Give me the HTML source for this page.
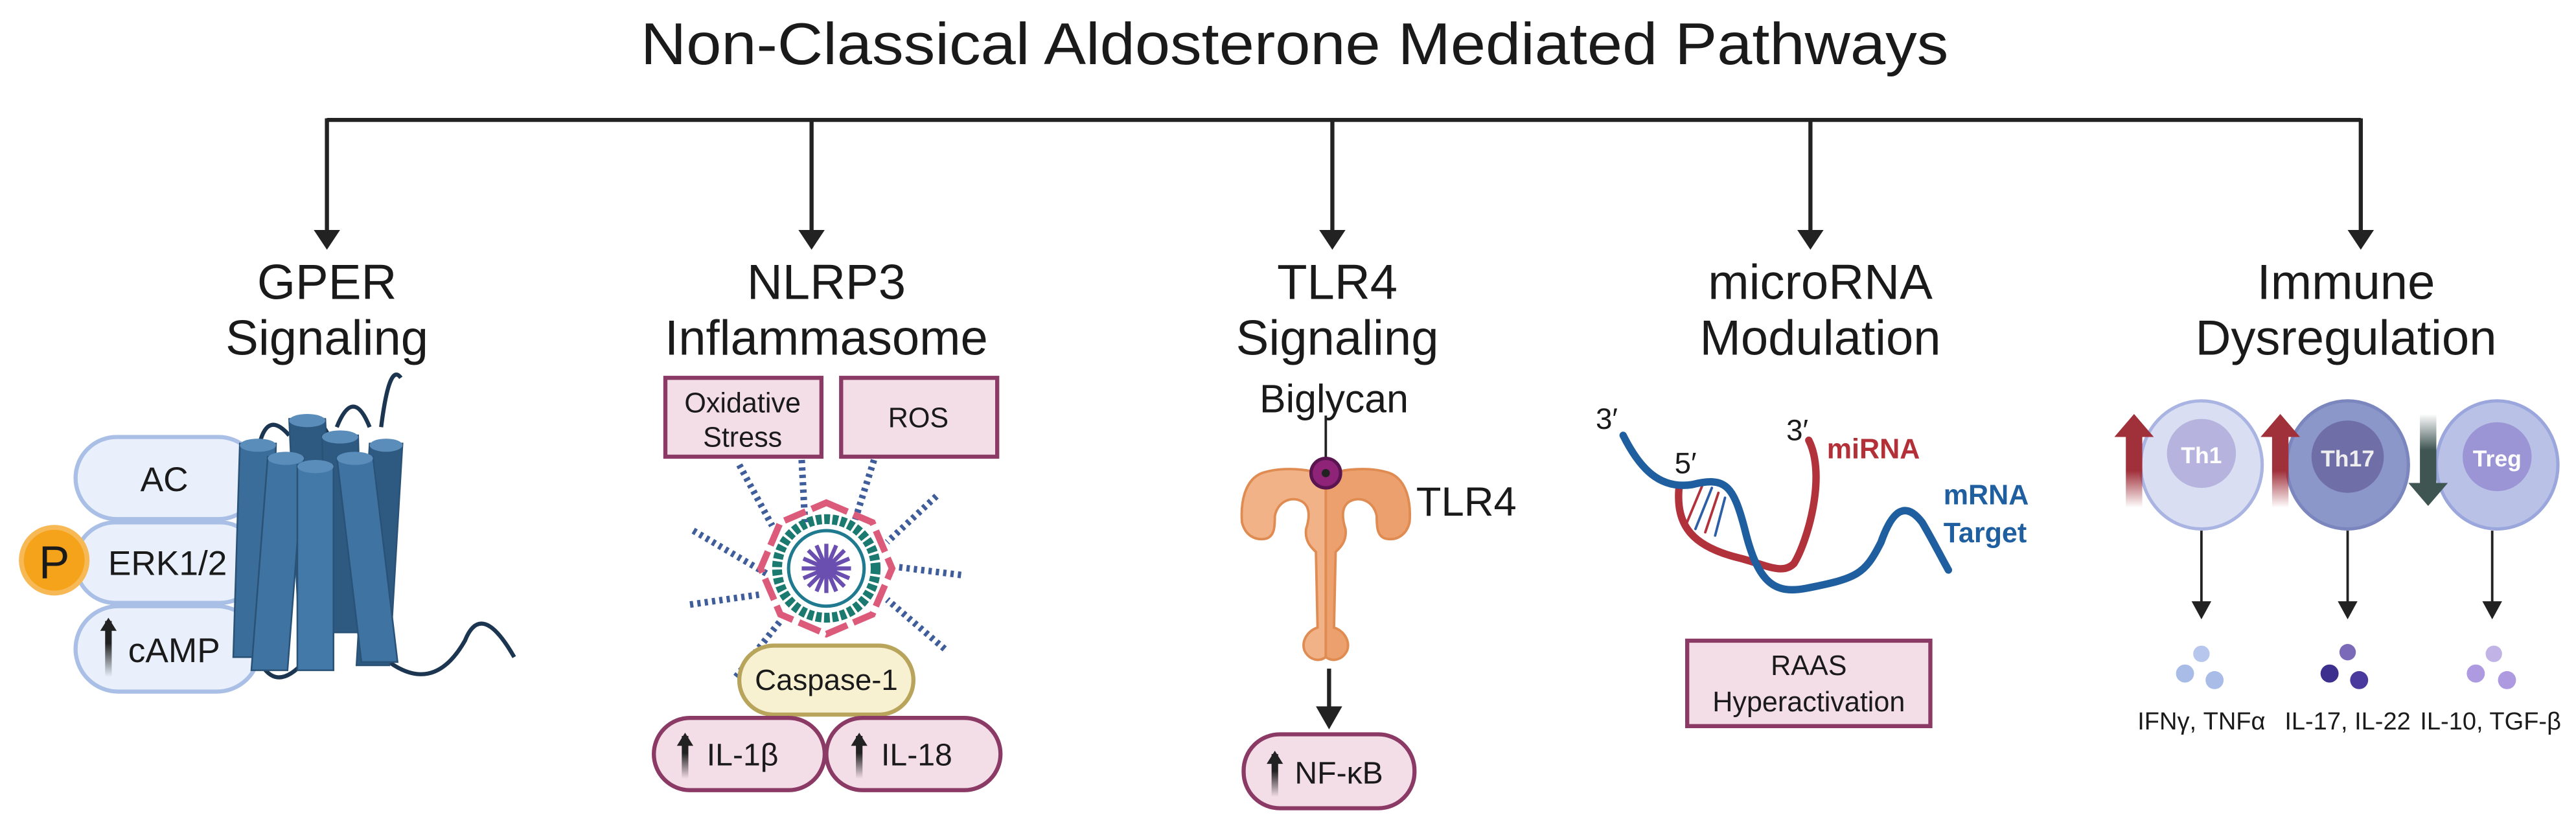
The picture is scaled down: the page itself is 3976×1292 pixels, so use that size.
<!DOCTYPE html>
<html><head><meta charset="utf-8"><style>
html,body{margin:0;padding:0;background:#fff;}
svg{display:block;}
text{font-family:"Liberation Sans",sans-serif;fill:#1a1a1a;}
</style></head><body>
<svg width="3976" height="1292" viewBox="0 0 1568 509.5" preserveAspectRatio="none" xmlns="http://www.w3.org/2000/svg">
<defs>
<linearGradient id="upr" x1="0" y1="1" x2="0" y2="0"><stop offset="0" stop-color="#a0303a" stop-opacity="0"/><stop offset="0.5" stop-color="#a0303a"/><stop offset="1" stop-color="#a0303a"/></linearGradient>
<linearGradient id="dng" x1="0" y1="0" x2="0" y2="1"><stop offset="0" stop-color="#3e5552" stop-opacity="0"/><stop offset="0.5" stop-color="#3e5552"/><stop offset="1" stop-color="#3e5552"/></linearGradient>
<linearGradient id="blk" x1="0" y1="1" x2="0" y2="0"><stop offset="0" stop-color="#222" stop-opacity="0"/><stop offset="0.6" stop-color="#222"/></linearGradient>
</defs>

<text x="788" y="39" font-size="36" text-anchor="middle" textLength="796" lengthAdjust="spacingAndGlyphs">Non-Classical Aldosterone Mediated Pathways</text>

<path d="M199,73 H1437" stroke="#222" stroke-width="2.5" fill="none"/>
<g stroke="#222" stroke-width="2.5" fill="none">
<path d="M199,72 V142"/><path d="M494,72 V142"/><path d="M811,72 V142"/><path d="M1102,72 V142"/><path d="M1437,72 V142"/>
</g>
<g fill="#222">
<path d="M191,140 h16 l-8,12z"/><path d="M486,140 h16 l-8,12z"/><path d="M803,140 h16 l-8,12z"/><path d="M1094,140 h16 l-8,12z"/><path d="M1429,140 h16 l-8,12z"/>
</g>

<g font-size="30" text-anchor="middle">
<text x="199" y="182">GPER</text><text x="199" y="216">Signaling</text>
<text x="503" y="182">NLRP3</text><text x="503" y="216">Inflammasome</text>
<text x="814" y="182">TLR4</text><text x="814" y="216">Signaling</text>
<text x="812" y="251" font-size="24">Biglycan</text>
<text x="1108" y="182">microRNA</text><text x="1108" y="216">Modulation</text>
<text x="1428" y="182">Immune</text><text x="1428" y="216">Dysregulation</text>
</g>

<!-- GPER -->
<g stroke="#a9bfe6" stroke-width="2.5" fill="#e9f0fb">
<rect x="46" y="266" width="112" height="50" rx="25"/>
<rect x="46" y="318" width="112" height="49" rx="24"/>
<rect x="46" y="369" width="112" height="52" rx="26"/>
</g>
<text x="100" y="299" font-size="21" text-anchor="middle">AC</text>
<text x="102" y="350" font-size="21" text-anchor="middle">ERK1/2</text>
<text x="106" y="403" font-size="21" text-anchor="middle">cAMP</text>
<rect x="64" y="378" width="4" height="34" fill="url(#blk)"/><path d="M61,384 l5,-8 l5,8z" fill="#222"/>
<circle cx="33" cy="341" r="20" fill="#f5a31a" stroke="#f7b955" stroke-width="3"/>
<text x="33" y="352" font-size="28" text-anchor="middle" fill="#333">P</text>
<g stroke="#1c3550" stroke-width="2.5" fill="none">
<path d="M155,395 q10,30 30,8"/>
<path d="M233,400 q30,25 50,-10 q10,-25 30,10"/>
<path d="M158,270 q5,-20 18,-5"/><path d="M180,265 q10,-20 20,0"/><path d="M205,260 q10,-25 20,0"/><path d="M232,260 q5,-40 12,-30"/>
</g>
<g stroke="#2a5277" stroke-width="1">
<path d="M176,255 h22 l6,130 h-22z" fill="#2e5a82"/>
<path d="M196,265 h22 l3,120 h-22z" fill="#2e5a82"/>
<path d="M225,270 h20 l-8,135 h-20z" fill="#2e5a82"/>
<path d="M146,270 h22 l-4,130 h-22z" fill="#3a6d99"/>
<path d="M163,278 h22 l-10,130 h-22z" fill="#3f74a2"/>
<path d="M181,283 h22 l0,125 h-22z" fill="#4379a8"/>
<path d="M205,278 h22 l15,125 h-22z" fill="#3f74a2"/>
</g>
<g fill="#5a8dba"><ellipse cx="187" cy="256" rx="11" ry="4"/><ellipse cx="207" cy="266" rx="11" ry="4"/><ellipse cx="235" cy="271" rx="10" ry="4"/><ellipse cx="157" cy="271" rx="11" ry="4"/><ellipse cx="174" cy="279" rx="11" ry="4"/><ellipse cx="192" cy="284" rx="11" ry="4"/><ellipse cx="216" cy="279" rx="11" ry="4"/></g>

<!-- NLRP3 -->
<g fill="#f3dde7" stroke="#8b3a66" stroke-width="2.5">
<rect x="405" y="230" width="95" height="48"/>
<rect x="512" y="230" width="95" height="48"/>
</g>
<text x="452" y="251" font-size="17" text-anchor="middle">Oxidative</text>
<text x="452" y="272" font-size="17" text-anchor="middle">Stress</text>
<text x="559" y="260" font-size="17" text-anchor="middle">ROS</text>
<g stroke="#3f5d9a" stroke-width="4" stroke-dasharray="2 2.5" fill="none">
<path d="M450,283 L470,320"/><path d="M488,280 L490,318"/><path d="M532,280 L520,318"/>
<path d="M570,302 L540,330"/><path d="M585,350 L545,345"/><path d="M575,395 L540,365"/>
<path d="M422,323 L468,350"/><path d="M420,368 L462,362"/><path d="M448,412 L475,378"/><path d="M505,392 L505,412"/>
</g>
<g transform="translate(503,346)">
<polygon points="0,-40 28,-28 40,0 28,28 0,40 -28,28 -40,0 -28,-28" fill="none" stroke="#dc5a7a" stroke-width="4" stroke-dasharray="14 4"/>
<circle r="30" fill="none" stroke="#1b7a70" stroke-width="6" stroke-dasharray="3.5 1.5"/>
<circle r="23" fill="none" stroke="#1f7a8f" stroke-width="2"/>
<g stroke="#6a4fb0" stroke-width="2.5"><path d="M-15,0 H15 M0,-15 V15 M-11,-11 L11,11 M-11,11 L11,-11 M-14,-6 L14,6 M-14,6 L14,-6 M-6,-14 L6,14 M6,-14 L-6,14"/></g>
<circle r="3" fill="#6a4fb0"/>
</g>
<rect x="450" y="393" width="106" height="42" rx="21" fill="#f7f1d2" stroke="#b9a45b" stroke-width="2.5"/>
<text x="503" y="420" font-size="18" text-anchor="middle" fill="#333">Caspase-1</text>
<g fill="#f3dde7" stroke="#8b3a66" stroke-width="2.5">
<rect x="398" y="437" width="104" height="44" rx="22"/>
<rect x="503" y="437" width="106" height="44" rx="22"/>
</g>
<rect x="415" y="448" width="4" height="26" fill="url(#blk)"/><path d="M412,454 l5,-8 l5,8z" fill="#222"/>
<rect x="521" y="448" width="4" height="26" fill="url(#blk)"/><path d="M518,454 l5,-8 l5,8z" fill="#222"/>
<text x="452" y="466" font-size="19" text-anchor="middle">IL-1β</text>
<text x="558" y="466" font-size="19" text-anchor="middle">IL-18</text>

<!-- TLR4 -->
<path d="M807,253 V287" stroke="#222" stroke-width="1.5"/>
<g stroke="#df8b52" stroke-width="1.5">
<path d="M807,290 C798,285 780,284 768,288 C758,292 755,305 756,318 C758,326 764,329 770,328 C776,327 776,320 776,314 C778,305 786,302 792,305 C798,308 797,316 795,322 C794,330 799,334 801,336 L802,382 C796,384 792,390 794,396 C797,402 803,403 807,400 Z" fill="#f1b287"/>
<path d="M807,290 C816,285 834,284 846,288 C856,292 859,305 858,318 C856,326 850,329 844,328 C838,327 838,320 838,314 C836,305 828,302 822,305 C816,308 817,316 819,322 C820,330 815,334 813,336 L812,382 C818,384 822,390 820,396 C817,402 811,403 807,400 Z" fill="#eba06d"/>
</g>
<circle cx="807" cy="288" r="9" fill="#8e2377" stroke="#5a1550" stroke-width="2"/>
<circle cx="807" cy="288" r="2.5" fill="#222"/>
<text x="862" y="314" font-size="25">TLR4</text>
<path d="M809,407 V432" stroke="#222" stroke-width="2.5"/><path d="M801,430 h16 l-8,14z" fill="#222"/>
<rect x="757" y="447" width="104" height="45" rx="22" fill="#f3dde7" stroke="#8b3a66" stroke-width="2.5"/>
<rect x="774" y="459" width="4" height="26" fill="url(#blk)"/><path d="M771,465 l5,-8 l5,8z" fill="#222"/>
<text x="815" y="477" font-size="19" text-anchor="middle">NF-κB</text>

<!-- microRNA -->
<text x="978" y="261" font-size="18" text-anchor="middle">3′</text>
<text x="1026" y="288" font-size="18" text-anchor="middle">5′</text>
<text x="1094" y="268" font-size="18" text-anchor="middle">3′</text>
<text x="1112" y="279" font-size="17" font-weight="bold" style="fill:#b33038">miRNA</text>
<text x="1183" y="307" font-size="17" font-weight="bold" style="fill:#1f5f9f">mRNA</text>
<text x="1183" y="330" font-size="17" font-weight="bold" style="fill:#1f5f9f">Target</text>
<g stroke-width="4.5" fill="none" stroke-linecap="round">
<path d="M1101,268 C1112,290 1100,330 1092,343 C1085,350 1075,344 1060,340 C1030,333 1020,320 1022,297" stroke="#b2323c"/>
<g stroke-width="1.5"><path d="M1026,320 L1036,296" stroke="#b2323c"/><path d="M1032,322 L1042,297" stroke="#2d5ea8"/><path d="M1038,324 L1046,300" stroke="#b2323c"/><path d="M1044,326 L1050,303" stroke="#2d5ea8"/></g>
<path d="M988,265 C998,285 1010,298 1030,295 C1050,290 1055,295 1062,322 C1070,355 1080,362 1100,358 C1130,352 1135,350 1145,330 C1152,310 1160,305 1170,318 C1176,328 1182,340 1186,347" stroke="#1f5f9f"/>
</g>
<rect x="1027" y="390" width="148" height="52" fill="#f3dde7" stroke="#8b3a66" stroke-width="2.5"/>
<text x="1101" y="411" font-size="17" text-anchor="middle">RAAS</text>
<text x="1101" y="433" font-size="17" text-anchor="middle">Hyperactivation</text>

<!-- Immune -->
<ellipse cx="1340" cy="283" rx="37" ry="39" fill="#d9def2" stroke="#aab4e2" stroke-width="2"/>
<circle cx="1340" cy="276" r="21" fill="#b6b3de"/>
<text x="1340" y="282" font-size="14" font-weight="bold" text-anchor="middle" style="fill:#fff">Th1</text>
<ellipse cx="1429" cy="283" rx="37" ry="39" fill="#8b96c9" stroke="#7a86bd" stroke-width="2"/>
<circle cx="1429" cy="278" r="22" fill="#6f6ea7"/>
<text x="1429" y="284" font-size="14" font-weight="bold" text-anchor="middle" style="fill:#eee">Th17</text>
<ellipse cx="1520" cy="283" rx="37" ry="39" fill="#b9c2e6" stroke="#9aa6dc" stroke-width="2"/>
<circle cx="1520" cy="278" r="21" fill="#9b95d6"/>
<text x="1520" y="284" font-size="14" font-weight="bold" text-anchor="middle" style="fill:#fff">Treg</text>
<rect x="1294" y="264" width="10" height="45" fill="url(#upr)"/><path d="M1287,266 l12,-14 l12,14z" fill="#a0303a"/>
<rect x="1383" y="264" width="10" height="45" fill="url(#upr)"/><path d="M1376,266 l12,-14 l12,14z" fill="#a0303a"/>
<rect x="1473" y="252" width="10" height="44" fill="url(#dng)"/><path d="M1466,294 l12,14 l12,-14z" fill="#3e5552"/>
<g stroke="#222" stroke-width="1.5"><path d="M1340,323 V368"/><path d="M1429,323 V368"/><path d="M1517,323 V368"/></g>
<g fill="#222"><path d="M1334,366 h12 l-6,11z"/><path d="M1423,366 h12 l-6,11z"/><path d="M1511,366 h12 l-6,11z"/></g>
<g><circle cx="1340" cy="398" r="5" fill="#b7c6ec"/><circle cx="1330" cy="410" r="5.5" fill="#a9bce8"/><circle cx="1348" cy="414" r="5.5" fill="#a9bce8"/>
<circle cx="1429" cy="397" r="5" fill="#7a6ab8"/><circle cx="1418" cy="410" r="5.5" fill="#3d2f8e"/><circle cx="1436" cy="414" r="5.5" fill="#4a3a9e"/>
<circle cx="1518" cy="398" r="5" fill="#c2b3e6"/><circle cx="1507" cy="410" r="5.5" fill="#ad9ae0"/><circle cx="1526" cy="414" r="5.5" fill="#ad9ae0"/></g>
<g font-size="15" text-anchor="middle">
<text x="1340" y="444">IFNγ, TNFα</text><text x="1429" y="444">IL-17, IL-22</text><text x="1516" y="444">IL-10, TGF-β</text>
</g>
</svg>
</body></html>
